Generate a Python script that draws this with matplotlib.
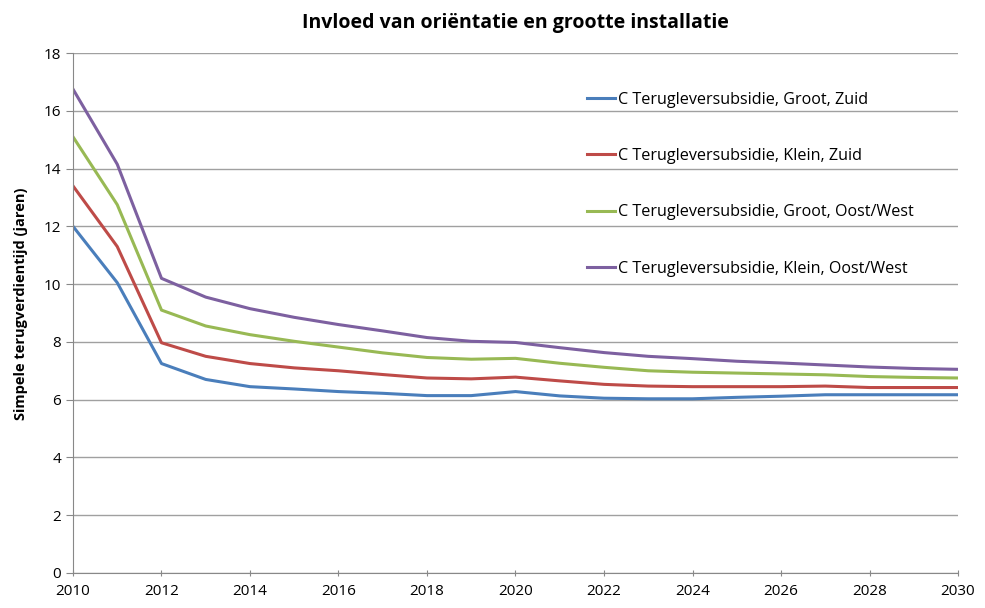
import matplotlib
matplotlib.use('Agg')
import matplotlib.pyplot as plt

plt.rcParams['font.family'] = ['Open Sans', 'DejaVu Sans']

jaren = list(range(2010, 2031))

groot_zuid = [12.0, 10.05, 7.25, 6.7, 6.45, 6.37, 6.28, 6.22, 6.14, 6.14, 6.28,
              6.13, 6.05, 6.03, 6.03, 6.08, 6.12, 6.17, 6.17, 6.17, 6.17]
klein_zuid = [13.4, 11.3, 7.97, 7.5, 7.25, 7.1, 7.0, 6.87, 6.75, 6.72, 6.78,
              6.65, 6.53, 6.47, 6.45, 6.45, 6.45, 6.47, 6.42, 6.42, 6.42]
groot_ow = [15.1, 12.75, 9.1, 8.55, 8.25, 8.02, 7.82, 7.62, 7.46, 7.4, 7.43,
            7.26, 7.12, 7.0, 6.95, 6.92, 6.89, 6.86, 6.8, 6.77, 6.75]
klein_ow = [16.75, 14.15, 10.2, 9.55, 9.15, 8.85, 8.6, 8.38, 8.15, 8.02, 7.98,
            7.8, 7.63, 7.5, 7.42, 7.33, 7.27, 7.2, 7.13, 7.08, 7.05]

labels = ["C Terugleversubsidie, Groot, Zuid",
          "C Terugleversubsidie, Klein, Zuid",
          "C Terugleversubsidie, Groot, Oost/West",
          "C Terugleversubsidie, Klein, Oost/West"]
kleuren = ['#4a7ebb', '#be4b48', '#98b954', '#7d60a0']

fig = plt.figure(figsize=(9.85, 6.08), dpi=100)
ax = fig.add_axes([0.0741, 0.0576, 0.8985, 0.8552])

for reeks, label, kleur in zip([groot_zuid, klein_zuid, groot_ow, klein_ow], labels, kleuren):
    ax.plot(jaren, reeks, color=kleur, linewidth=2.2, label=label)

ax.set_xlim(2010, 2030)
ax.set_ylim(0, 18)
ax.set_xticks(range(2010, 2031, 2))
ax.set_yticks(range(0, 19, 2))
ax.grid(axis='y', color='#a0a0a0', linewidth=1)
ax.set_axisbelow(True)
for s in ['top', 'right']:
    ax.spines[s].set_visible(False)
for s in ['left', 'bottom']:
    ax.spines[s].set_color('#888888')
ax.tick_params(axis='both', labelsize=11, color='#888888', length=5)
ax.tick_params(axis='x', direction='inout', length=4, pad=6)

ax.set_title('Invloed van oriëntatie en grootte installatie', fontsize=14,
             fontweight='bold', pad=18)
ax.set_ylabel('Simpele terugverdientijd (jaren)', fontsize=10.5, fontweight='bold')
ax.yaxis.set_label_coords(-0.051, 0.517)

ax.legend(loc='upper left', bbox_to_anchor=(0.5736, 0.938), frameon=False,
          fontsize=11.6, labelspacing=2.5, handlelength=1.75, handletextpad=0.15,
          borderaxespad=0)

fig.savefig('out.png', dpi=100)
